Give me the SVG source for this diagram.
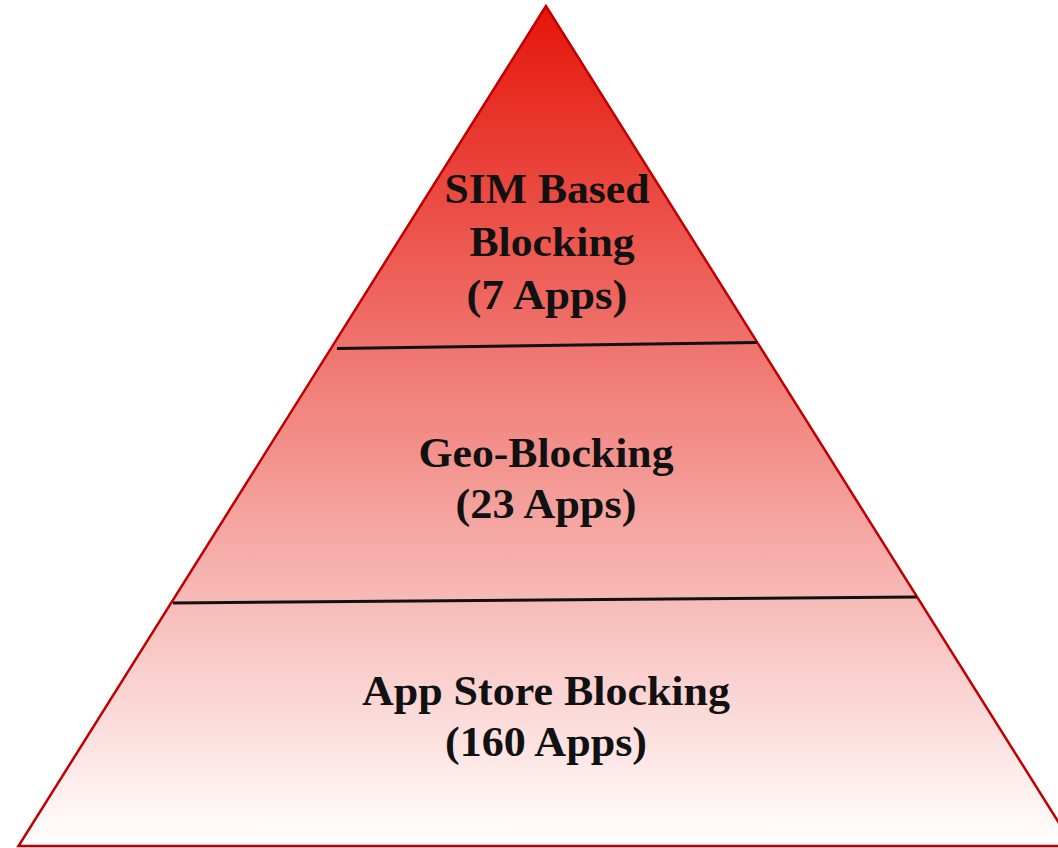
<svg xmlns="http://www.w3.org/2000/svg" width="1058" height="848" viewBox="0 0 1058 848">
  <defs>
    <linearGradient id="redfade" gradientUnits="userSpaceOnUse" x1="0" y1="6" x2="0" y2="846">
      <stop offset="0" stop-color="#e5150a"/>
      <stop offset="1" stop-color="#ffffff"/>
    </linearGradient>
  </defs>
  <style>
    .lbl { font-family: "Liberation Serif", "Times New Roman", serif; font-weight: bold; font-size: 42px; fill: #111111; text-anchor: middle; }
    .divider { stroke: #111111; stroke-width: 3; fill: none; }
  </style>
  <rect width="1058" height="848" fill="#ffffff"/>
  <g id="pyramid">
    <polygon points="546,6 18.5,846 1073.5,846" fill="url(#redfade)" stroke="#c00000" stroke-width="2.5" stroke-linejoin="miter"/>
  </g>
  <g id="connectors">
    <line class="divider" x1="337" y1="348.5" x2="757" y2="342.5"/>
    <line class="divider" x1="173" y1="603" x2="917" y2="597"/>
  </g>
  <g id="node-sim">
    <text class="lbl" x="547" y="203" textLength="205" lengthAdjust="spacingAndGlyphs">SIM Based</text>
    <text class="lbl" x="552" y="256" textLength="165" lengthAdjust="spacingAndGlyphs">Blocking</text>
    <text class="lbl" x="547" y="309" textLength="161" lengthAdjust="spacingAndGlyphs">(7 Apps)</text>
  </g>
  <g id="node-geo">
    <text class="lbl" x="546" y="467" textLength="255" lengthAdjust="spacingAndGlyphs">Geo-Blocking</text>
    <text class="lbl" x="546" y="518" textLength="181" lengthAdjust="spacingAndGlyphs">(23 Apps)</text>
  </g>
  <g id="node-appstore">
    <text class="lbl" x="546" y="705" textLength="368" lengthAdjust="spacingAndGlyphs">App Store Blocking</text>
    <text class="lbl" x="546" y="756" textLength="202" lengthAdjust="spacingAndGlyphs">(160 Apps)</text>
  </g>
</svg>
